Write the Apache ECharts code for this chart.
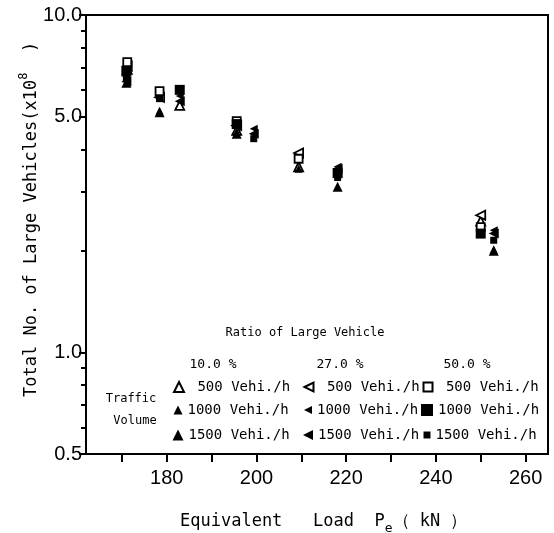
<!DOCTYPE html>
<html><head><meta charset="utf-8">
<script src="https://cdn.jsdelivr.net/npm/echarts@6/dist/echarts.min.js"></script>
<style>html,body{margin:0;padding:0;background:#fff}#c{width:554px;height:533px}</style>
</head><body><div id="c"></div>
<script>
// ---- tick values ----
const yMajorTicks = [0.5, 1, 5, 10];
const yMinorTicks = [0.6, 0.7, 0.8, 0.9, 2, 3, 4, 6, 7, 8, 9];
const xMajorTicks = [180, 200, 220, 240, 260];
const xMinorTicks = [170, 190, 210, 230, 250];
// ---- legend text ----
const ratioLabels = ['10.0 %', '27.0 %', '50.0 %'];
const volumeLabels = [' 500 Vehi./h', '1000 Vehi./h', '1500 Vehi./h'];
// ---- data: [equivalent load kN, total no. of large vehicles (x10^8)] ----
const r10v500  = [[171.2, 6.9],  [182.9, 5.4],  [195.6, 4.55], [209.4, 3.55], [250.0, 2.45]];
const r10v1000 = [[171.0, 6.5],  [178.4, 5.2],  [195.6, 4.5],  [209.4, 3.5],  [252.9, 2.02]];
const r10v1500 = [[171.0, 6.3],  [178.4, 5.15], [195.6, 4.45], [218.1, 3.1],  [252.9, 2.0]];
const r27v500  = [[171.2, 7.05], [178.4, 5.7],  [195.6, 4.7],  [209.4, 3.9],  [250.0, 2.55]];
const r27v1000 = [[171.0, 6.6],  [182.9, 5.75], [199.4, 4.6],  [218.1, 3.55], [252.9, 2.3]];
const r27v1500 = [[171.0, 6.35], [182.9, 5.55], [199.4, 4.45], [218.1, 3.5],  [252.9, 2.25]];
const r50v500  = [[171.2, 7.25], [178.4, 5.95], [195.6, 4.85], [209.4, 3.75], [250.0, 2.35]];
const r50v1000 = [[171.0, 6.8],  [182.9, 6.0],  [195.6, 4.75], [218.1, 3.4],  [250.0, 2.25]];
const r50v1500 = [[171.0, 6.5],  [178.4, 5.65], [199.4, 4.3],  [218.1, 3.3],  [252.9, 2.15]];

const MONO = '"DejaVu Sans Mono", "Liberation Mono", monospace';
const SANS = '"Liberation Sans", Arial, sans-serif';
const LEFT_TRI = 'path://M0,5 L10,0 L10,10 Z';

const seriesDefs = [
  {name: 'r10v500',  data: r10v500,  symbol: 'triangle', size: 9,  rot: 0,  open: true,  leg: 10},
  {name: 'r10v1000', data: r10v1000, symbol: 'triangle', size: 8,  rot: 0,  open: false, leg: 9},
  {name: 'r10v1500', data: r10v1500, symbol: 'triangle', size: 10, rot: 0,  open: false, leg: 11},
  {name: 'r27v500',  data: r27v500,  symbol: 'triangle', size: 9,  rot: 90, open: true,  leg: 9},
  {name: 'r27v1000', data: r27v1000, symbol: 'triangle', size: 8,  rot: 90, open: false, leg: 8},
  {name: 'r27v1500', data: r27v1500, symbol: 'triangle', size: 10, rot: 90, open: false, leg: 10},
  {name: 'r50v500',  data: r50v500,  symbol: 'rect',     size: 8,  rot: 0,  open: true,  leg: 9},
  {name: 'r50v1000', data: r50v1000, symbol: 'rect',     size: 10, rot: 0,  open: false, leg: 12},
  {name: 'r50v1500', data: r50v1500, symbol: 'rect',     size: 7,  rot: 0,  open: false, leg: 7}
];

const series = seriesDefs.map(d => ({
  type: 'scatter', name: d.name, data: d.data,
  symbol: d.symbol, symbolSize: d.size, symbolRotate: d.rot,
  itemStyle: {color: d.open ? '#fff' : '#000', borderColor: '#000', borderWidth: d.open ? 1.8 : 0, opacity: 1},
  emphasis: {disabled: true}, z: 3
}));

const legendCols = [172, 302, 421];
const legendRows = [388, 411, 436];
const legends = [];
seriesDefs.forEach((d, i) => {
  const col = Math.floor(i / 3), row = i % 3;
  const item = {name: d.name};
  if (d.rot) item.icon = LEFT_TRI;
  legends.push({
    left: legendCols[col] + (12 - d.leg) / 2, top: legendRows[row] - 8, padding: 0,
    itemWidth: d.leg, itemHeight: d.leg, itemGap: 0, selectedMode: false,
    data: [item],
    formatter: () => volumeLabels[row],
    textStyle: {fontFamily: MONO, fontSize: 14, color: '#000'}
  });
});

const graphics = [
  {type: 'text', x: 305, y: 333, style: {text: 'Ratio of Large Vehicle', font: '12px ' + MONO, fill: '#000', textAlign: 'center', textVerticalAlign: 'middle'}},
  {type: 'text', x: 131, y: 399, style: {text: 'Traffic', font: '12px ' + MONO, fill: '#000', textAlign: 'center', textVerticalAlign: 'middle'}},
  {type: 'text', x: 135, y: 421, style: {text: 'Volume', font: '12px ' + MONO, fill: '#000', textAlign: 'center', textVerticalAlign: 'middle'}},
  {type: 'text', x: 32, y: 397, rotation: Math.PI / 2,
    style: {text: 'Total No. of Large Vehicles(x10{sup|8}  )', font: '17px ' + MONO, fill: '#000',
      textAlign: 'left', textVerticalAlign: 'middle', lineHeight: 28,
      rich: {sup: {fontSize: 12, fontFamily: 'DejaVu Sans Mono', verticalAlign: 'top', lineHeight: 28}}}},
  {type: 'text', x: 180, y: 522,
    style: {text: 'Equivalent   Load  P{sub|e}（ kN ）', font: '17px ' + MONO, fill: '#000',
      textAlign: 'left', textVerticalAlign: 'middle', lineHeight: 26,
      rich: {sub: {fontSize: 13, fontFamily: 'DejaVu Sans Mono', verticalAlign: 'bottom', lineHeight: 26}}}}
];
ratioLabels.forEach((t, i) => {
  graphics.push({type: 'text', x: [213, 340, 467][i], y: 365, style: {text: t, font: '13px ' + MONO, fill: '#000', textAlign: 'center', textVerticalAlign: 'middle'}});
});

const option = {
  animation: false,
  backgroundColor: '#fff',
  grid: {left: 86, right: 6, top: 15, bottom: 79, show: true, borderColor: '#000', borderWidth: 2, backgroundColor: 'transparent'},
  xAxis: [
    {type: 'value', min: 162, max: 265,
      axisLine: {show: true, lineStyle: {color: '#000', width: 2}},
      axisTick: {show: true, inside: false, length: 8, lineStyle: {color: '#000', width: 2}, customValues: xMajorTicks},
      axisLabel: {show: true, customValues: xMajorTicks, margin: 14, color: '#000', fontFamily: SANS, fontSize: 20},
      splitLine: {show: false}},
    {type: 'value', min: 162, max: 265, position: 'bottom', gridIndex: 0,
      axisLine: {show: false},
      axisTick: {show: true, inside: false, length: 8, lineStyle: {color: '#000', width: 2}, customValues: xMinorTicks},
      axisLabel: {show: false}, splitLine: {show: false}}
  ],
  yAxis: [
    {type: 'log', logBase: 10, min: 0.5, max: 10,
      axisLine: {show: true, lineStyle: {color: '#000', width: 2}},
      axisTick: {show: true, inside: false, length: 7, lineStyle: {color: '#000', width: 2}, customValues: yMajorTicks},
      axisLabel: {show: true, customValues: yMajorTicks, margin: 4, color: '#000', fontFamily: SANS, fontSize: 20,
        formatter: v => Number(v).toFixed(1)},
      splitLine: {show: false}, minorTick: {show: false}, minorSplitLine: {show: false}},
    {type: 'log', logBase: 10, min: 0.5, max: 10, position: 'left',
      axisLine: {show: false},
      axisTick: {show: true, inside: false, length: 5, lineStyle: {color: '#000', width: 2}, customValues: yMinorTicks},
      axisLabel: {show: false}, splitLine: {show: false}}
  ],
  legend: legends,
  graphic: graphics,
  series: series
};

const chart = echarts.init(document.getElementById('c'), null, {renderer: 'canvas'});
chart.setOption(option);
</script>
</body></html>
